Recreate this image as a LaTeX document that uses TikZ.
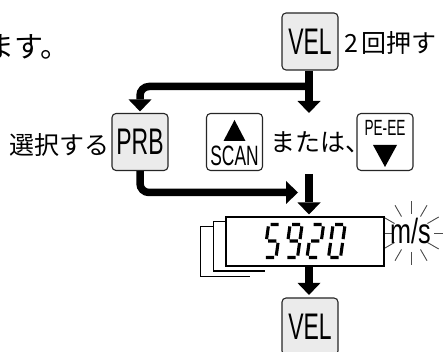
\documentclass[tikz,border=0pt]{standalone}
\usepackage{fontspec}
\usepackage{graphicx}
\setmainfont{Liberation Sans}
\newfontfamily\jpfont{Noto Sans CJK JP}
\usetikzlibrary{arrows.meta}
\def\lcdA{(1.9,-33) -- (10.1,-33)}
\def\lcdB{(12,-31.1) -- (12,-18.4)}
\def\lcdC{(12,-14.6) -- (12,-1.9)}
\def\lcdD{(1.9,0) -- (10.1,0)}
\def\lcdE{(0,-1.9) -- (0,-14.6)}
\def\lcdF{(0,-18.4) -- (0,-31.1)}
\def\lcdG{(1.9,-16.5) -- (10.1,-16.5)}
\newcommand\keytxt[2]{\scalebox{0.62}[1]{\fontsize{#1}{#1}\selectfont #2}}
\begin{document}
\begin{tikzpicture}[x=1pt,y=-1pt,
 key/.style={draw=black!85, line width=1.1pt, rounded corners=4pt, minimum width=56pt, minimum height=57pt, inner sep=0pt, fill=white},
 keyg/.style={key, fill=black!8},
 lbl/.style={inner sep=0pt, font=\jpfont\fontsize{25}{25}\selectfont},
 arr/.style={line width=7.5pt, -{Triangle[width=23pt,length=12pt,line width=0pt]}},
 card/.style={line width=1.4pt},
 ray/.style={line width=0.9pt, black!70},
 lcd/.style={line width=3.1pt}]
\clip (0,0) rectangle (444,352);
\fill[white] (0,0) rectangle (444,352);

% top row
\node[lbl, anchor=east, font=\jpfont\fontsize{29}{29}\selectfont] (masu) at (70,47) {ます。};
\node[keyg] (vel1) at (310,41.5) {\keytxt{37}{VEL}};
\node[lbl, anchor=west] (push) at (344,43) {2\hspace{3pt}回押す};

% second row
\node[keyg] (prb) at (140,142) {\keytxt{37}{PRB}};
\node[lbl, anchor=east] (sel) at (110,145) {選択する};
\node[key] (scan) at (234.5,142) {};
\fill (223.5,141) -- (245.5,141) -- (234.5,120) -- cycle;
\node[inner sep=0pt] (scanlbl) at (234.5,156) {\keytxt{28}{SCAN}};
\node[lbl, anchor=west] (mata) at (270,142) {または、\kern-10pt};
\node[key] (peee) at (385,142) {};
\node[inner sep=0pt] (peeelbl) at (385,127.5) {\keytxt{22}{PE-EE}};
\fill (373,145) -- (397,145) -- (385,167) -- cycle;

% rays around m/s
\foreach \a in {30,60,...,330} \draw[ray, shift={(411,233)}] (\a:19) -- (\a:32);
\draw[ray] (434,233) -- (443,233);

% stacked cards
\draw[card] (227,221.7) -- (213.3,221.7) -- (213.3,271) -- (265,271);
\draw[card] (213.3,226.7) -- (200.7,226.7) -- (200.7,276.7) -- (250,276.7);

% display
\node[draw, line width=2pt, fill=white, minimum width=157.5pt, minimum height=49.5pt, inner sep=0pt] (disp) at (304.75,241.75) {};
\begin{scope}[shift={(264,257.5)},xslant=0.14]
 \draw[lcd] \lcdA \lcdF \lcdG \lcdC \lcdD;
\end{scope}
\begin{scope}[shift={(285.5,257.5)},xslant=0.14]
 \draw[lcd] \lcdA \lcdB \lcdC \lcdD \lcdF \lcdG;
\end{scope}
\begin{scope}[shift={(307,257.5)},xslant=0.14]
 \draw[lcd] \lcdA \lcdB \lcdG \lcdE \lcdD;
\end{scope}
\begin{scope}[shift={(328.5,257.5)},xslant=0.14]
 \draw[lcd] \lcdA \lcdB \lcdC \lcdD \lcdE \lcdF;
\end{scope}
\node[anchor=base, inner sep=0pt] (ms) at (410.5,243.5) {\scalebox{0.72}[1]{\fontsize{35}{35}\selectfont m/s}};

% bottom key
\node[keyg] (vel2) at (310,326.5) {\keytxt{37}{VEL}};

% connectors
\coordinate (t1) at (309,113);
\coordinate (j) at (309,86.5);
\coordinate (t2) at (298,192.5);
\coordinate (c3) at (309,174);
\draw[arr] (vel1.south -| t1) -- (t1);
\draw[arr, rounded corners=9pt, shorten >=1.5pt] (j) -| (prb.north);
\draw[arr, rounded corners=9pt] (prb.south) |- (t2);
\draw[arr, shorten >=1.5pt] (c3) -- (disp.north -| c3);
\draw[arr, shorten >=2.5pt] (disp.south -| c3) -- (vel2.north -| c3);
\end{tikzpicture}
\end{document}
